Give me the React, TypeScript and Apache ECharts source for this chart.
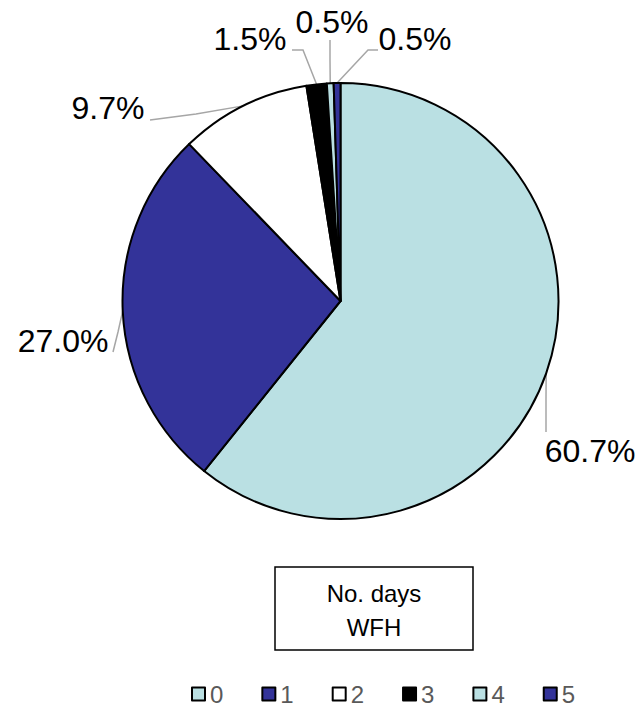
import React, { useEffect, useRef } from "react";
import * as echarts from "echarts";

const categories = ["0", "1", "2", "3", "4", "5"];
const values = [60.7, 27.0, 9.7, 1.5, 0.5, 0.5];
const colors = ["#BAE0E3", "#333399", "#FFFFFF", "#000000", "#BAE0E3", "#333399"];
const boxTitle = "No. days\nWFH";

// label placement (layout only): text centre and leader-line bend / end points
const labelPlacement = [
  { cx: 590, cy: 451, bend: [546, 400], end: [546, 432] },
  { cx: 63, cy: 341, bend: [118, 332], end: [113, 352] },
  { cx: 108, cy: 108, bend: [196, 114], end: [150, 120] },
  { cx: 250, cy: 39, bend: [303, 50], end: [292, 50] },
  { cx: 332, cy: 22, bend: [330, 60], end: [330, 40] },
  { cx: 415, cy: 39, bend: [368, 50], end: [378, 50] },
];

export default function App() {
  const ref = useRef<HTMLDivElement>(null);
  useEffect(() => {
    document.body.style.margin = "0";
    const chart = echarts.init(ref.current!, undefined, { renderer: "svg" });
    const font = "'Liberation Sans', Arial, sans-serif";
    chart.setOption({
      animation: false,
      backgroundColor: "#FFFFFF",
      legend: {
        top: 682,
        left: 191,
        padding: 0,
        data: categories,
        itemWidth: 13,
        itemHeight: 13,
        itemGap: 38,
        icon: "rect",
        textStyle: { color: "#595959", fontSize: 24, fontFamily: font },
      },
      graphic: [
        {
          type: "rect",
          shape: { x: 275, y: 567, width: 198, height: 83 },
          style: { fill: "#FFFFFF", stroke: "#000000", lineWidth: 1.5 },
        },
        {
          type: "text",
          x: 374,
          y: 610,
          style: {
            text: boxTitle,
            fill: "#000000",
            font: `24px ${font}`,
            lineHeight: 34,
            align: "center",
            verticalAlign: "middle",
          },
        },
      ],
      series: [
        {
          type: "pie",
          center: [340.5, 301],
          radius: [0, 218],
          startAngle: 90,
          clockwise: true,
          data: categories.map((c, i) => ({
            name: c,
            value: values[i],
            itemStyle: { color: colors[i] },
          })),
          itemStyle: { borderColor: "#000000", borderWidth: 2 },
          label: {
            show: true,
            formatter: (p: any) => p.value.toFixed(1) + "%",
            color: "#000000",
            fontSize: 32,
            fontFamily: font,
            overflow: "none",
          },
          labelLine: {
            show: true,
            length: 20,
            length2: 10,
            lineStyle: { color: "#A6A6A6", width: 1.5 },
          },
          labelLayout: (params: any) => {
            const pl = labelPlacement[params.dataIndex];
            const p0 = params.labelLinePoints ? params.labelLinePoints[0] : pl.bend;
            return {
              x: pl.cx,
              y: pl.cy,
              align: "center",
              verticalAlign: "middle",
              labelLinePoints: [p0, pl.bend, pl.end],
            };
          },
          emphasis: { disabled: true },
        },
      ],
    });
    return () => chart.dispose();
  }, []);
  return <div ref={ref} style={{ width: 639, height: 706 }} />;
}
